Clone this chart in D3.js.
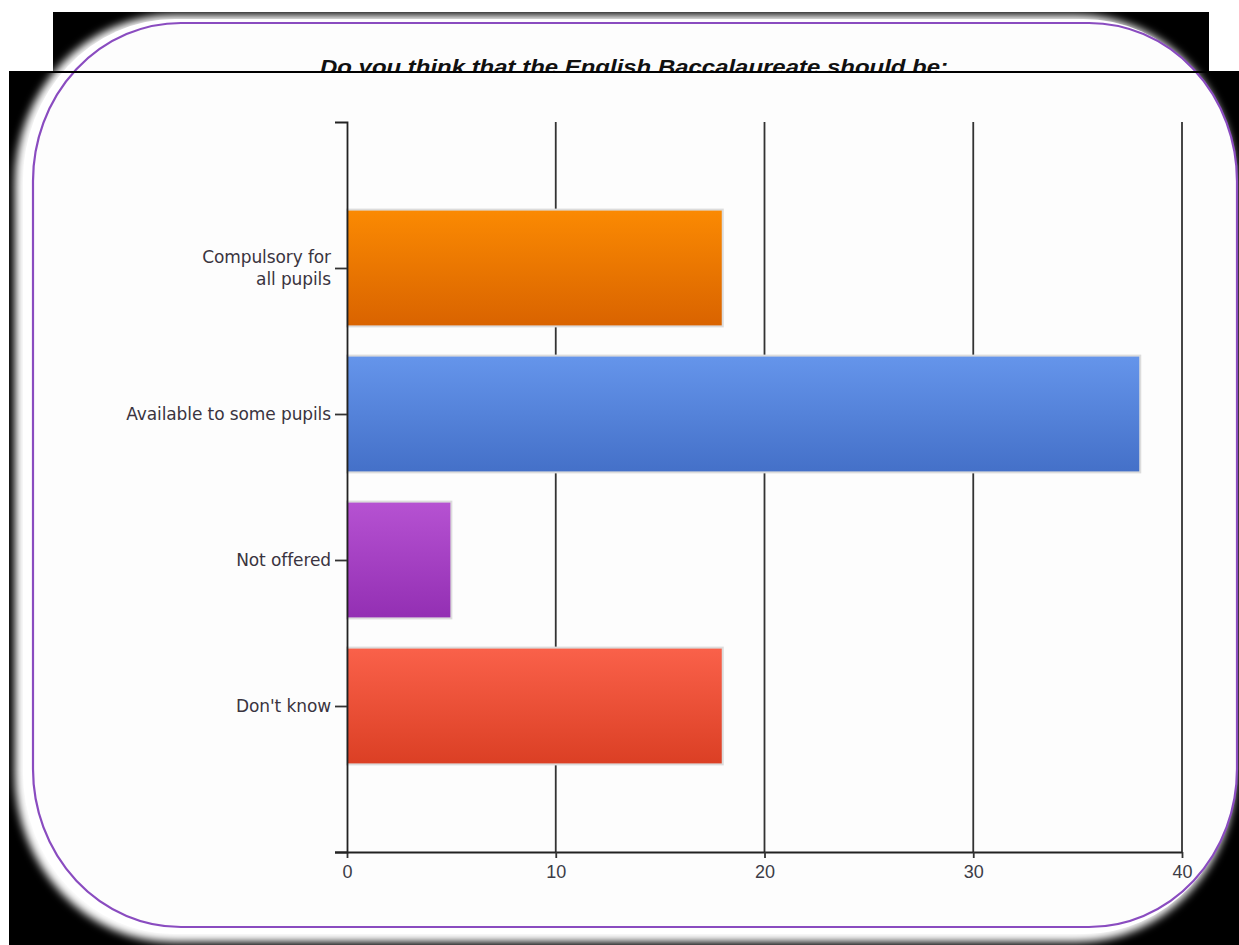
<!DOCTYPE html>
<html>
<head>
<meta charset="utf-8">
<script src="https://cdn.jsdelivr.net/npm/d3@7"></script>
<style>
  html, body { margin: 0; padding: 0; background: #fff; }
  svg { display: block; }
</style>
</head>
<body>
<svg id="chart" width="1239" height="945"></svg>
<script>
// Survey question and answers
const title = "Do you think that the English Baccalaureate should be:";
const categories = [["Compulsory for", "all pupils"], ["Available to some pupils"], ["Not offered"], ["Don't know"]];
const values = [18, 38, 5, 18];
const topColors = ["#fb8a02", "#6595eb", "#b652d2", "#fa614a"];
const bottomColors = ["#d96300", "#4470c8", "#932fb3", "#db3f24"];
const xTicks = [0, 10, 20, 30, 40];

const svg = d3.select("#chart");
const defs = svg.append("defs");

// Card frame: black backing plates, soft shadow, rounded white panel
svg.append("rect").attr("x", 53).attr("y", 12).attr("width", 1156).attr("height", 61).attr("fill", "#000");
svg.append("rect").attr("x", 9).attr("y", 71).attr("width", 1230).attr("height", 874).attr("fill", "#000");

const glow = defs.append("filter").attr("id", "glow")
  .attr("x", "-10%").attr("y", "-10%").attr("width", "120%").attr("height", "120%");
glow.append("feGaussianBlur").attr("stdDeviation", 4);

svg.append("rect")
  .attr("x", 15).attr("y", 15).attr("width", 1220).attr("height", 927)
  .attr("rx", 158).attr("ry", 168)
  .attr("fill", "#fff").attr("filter", "url(#glow)");
svg.append("rect")
  .attr("x", 23).attr("y", 19).attr("width", 1212).attr("height", 915)
  .attr("rx", 152).attr("ry", 162)
  .attr("fill", "#fff");

svg.append("rect")
  .attr("x", 33).attr("y", 23).attr("width", 1204).attr("height", 904)
  .attr("rx", 148).attr("ry", 158)
  .attr("fill", "#fdfdfd").attr("stroke", "#8a4cc0").attr("stroke-width", 2.2);

// Title, cut off by the rule beneath it
defs.append("clipPath").attr("id", "titleClip")
  .append("rect").attr("x", 0).attr("y", 0).attr("width", 1239).attr("height", 72);
svg.append("text")
  .attr("clip-path", "url(#titleClip)")
  .attr("x", 634).attr("y", 74)
  .attr("text-anchor", "middle")
  .attr("font-family", "Liberation Sans, Arial, sans-serif")
  .attr("font-weight", "bold").attr("font-style", "italic")
  .attr("font-size", 21)
  .attr("textLength", 628).attr("lengthAdjust", "spacingAndGlyphs")
  .attr("fill", "#111")
  .text(title);
svg.append("line").attr("x1", 9).attr("x2", 1239).attr("y1", 72).attr("y2", 72)
  .attr("stroke", "#000").attr("stroke-width", 2.2);

// Scales
const plot = { left: 347, right: 1182, top: 122, bottom: 852 };
const x = d3.scaleLinear().domain([0, 40]).range([plot.left, plot.right]);
const keys = categories.map(c => c.join(" "));
const y = d3.scalePoint().domain(keys).range([plot.top, plot.bottom]).padding(1);
const barH = y.step() * 0.8;

// Vertical gridlines
svg.append("g").selectAll("line")
  .data(xTicks.slice(1))
  .join("line")
  .attr("x1", d => x(d)).attr("x2", d => x(d))
  .attr("y1", plot.top).attr("y2", plot.bottom)
  .attr("stroke", "#333").attr("stroke-width", 1.8);

// Bar gradients
categories.forEach((c, i) => {
  const g = defs.append("linearGradient").attr("id", "grad" + i)
    .attr("x1", 0).attr("y1", 0).attr("x2", 0).attr("y2", 1);
  g.append("stop").attr("offset", "0%").attr("stop-color", topColors[i]);
  g.append("stop").attr("offset", "100%").attr("stop-color", bottomColors[i]);
});

// Bars
svg.append("g").selectAll("rect")
  .data(values)
  .join("rect")
  .attr("x", x(0))
  .attr("y", (d, i) => y(keys[i]) - barH / 2)
  .attr("width", d => x(d) - x(0))
  .attr("height", barH)
  .attr("fill", (d, i) => `url(#grad${i})`)
  .attr("stroke", "#dcdcdc").attr("stroke-width", 2);

// X axis
const xAxis = svg.append("g")
  .attr("transform", `translate(0,${plot.bottom})`)
  .call(d3.axisBottom(x).tickValues(xTicks).tickSize(6).tickSizeOuter(0).tickPadding(7));
xAxis.select(".domain").attr("stroke", "#222").attr("stroke-width", 1.8)
  .attr("d", `M${plot.left - 12},0.5H${plot.right}`);
xAxis.selectAll(".tick line").attr("stroke", "#333").attr("stroke-width", 1.8);
xAxis.selectAll(".tick text")
  .attr("font-family", "Liberation Sans, Arial, sans-serif").attr("font-size", 18)
  .attr("fill", "#3c3c46");

// Y axis
const yAxis = svg.append("g")
  .attr("transform", `translate(${plot.left},0)`)
  .call(d3.axisLeft(y).tickSize(12).tickSizeOuter(12).tickPadding(4));
yAxis.select(".domain").attr("stroke", "#222").attr("stroke-width", 1.8);
yAxis.selectAll(".tick line").attr("stroke", "#333").attr("stroke-width", 1.8);
yAxis.selectAll(".tick text").remove();
yAxis.selectAll(".tick").each(function (d, i) {
  const lines = categories[i];
  const t = d3.select(this).append("text")
    .attr("x", -16)
    .attr("text-anchor", "end")
    .attr("font-family", "DejaVu Sans, sans-serif").attr("font-size", 17)
    .attr("letter-spacing", -0.1)
    .attr("fill", "#3a3440");
  const lh = 22;
  const start = -(lines.length - 1) * lh / 2;
  lines.forEach((s, k) => {
    t.append("tspan").attr("x", -16).attr("y", start + k * lh).attr("dy", "0.35em").text(s);
  });
});
</script>
</body>
</html>
